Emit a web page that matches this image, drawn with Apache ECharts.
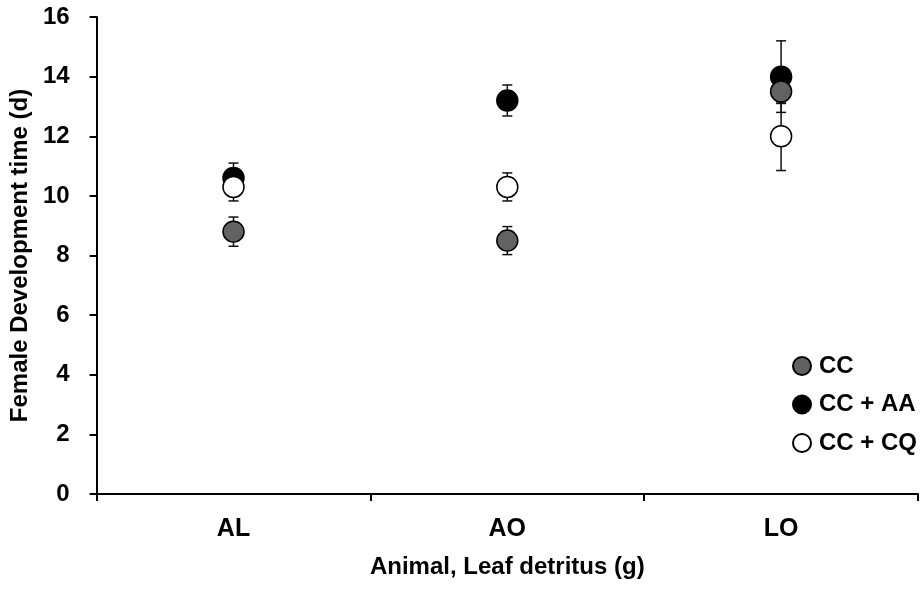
<!DOCTYPE html>
<html lang="en">

<head>
  <meta charset="UTF-8">
  <title>Female Development time</title>
  <style>
    * {
      margin: 0;
      padding: 0;
    }
    body {
      background-color: #ffffff;
    }
    #main {
      width: 924px;
      height: 593px;
    }
  </style>
</head>

<body>
  <div id="main"></div>
  <script src="https://cdn.jsdelivr.net/npm/echarts@6/dist/echarts.min.js"></script>
  <script>
    // data
    var categories = ['AL', 'AO', 'LO'];
    var ccMean = [8.8, 8.5, 13.5];
    var ccErr = [0.49, 0.47, 0.4];
    var aaMean = [10.6, 13.2, 14.0];
    var aaErr = [0.5, 0.52, 1.2];
    var cqMean = [10.3, 10.3, 12.0];
    var cqErr = [0.47, 0.47, 1.15];
    var yTicks = [0, 2, 4, 6, 8, 10, 12, 14, 16];

    var font = 'Liberation Sans';

    // [category index, low, high]
    function errData(mean, err) {
      return mean.map(function (m, i) {
        return [i, m - err[i], m + err[i]];
      });
    }

    function renderErr(params, api) {
      var x = api.value(0);
      var lo = api.coord([x, api.value(1)]);
      var hi = api.coord([x, api.value(2)]);
      var cap = 5;
      var st = { stroke: '#111', lineWidth: 1.5 };
      return {
        type: 'group',
        children: [
          { type: 'line', shape: { x1: lo[0], y1: lo[1], x2: hi[0], y2: hi[1] }, style: st },
          { type: 'line', shape: { x1: lo[0] - cap, y1: lo[1], x2: lo[0] + cap, y2: lo[1] }, style: st },
          { type: 'line', shape: { x1: hi[0] - cap, y1: hi[1], x2: hi[0] + cap, y2: hi[1] }, style: st }
        ]
      };
    }

    var allErr = errData(aaMean, aaErr).concat(errData(ccMean, ccErr), errData(cqMean, cqErr));

    var myChart = echarts.init(document.getElementById('main'));
    var option = {
      animation: false,
      backgroundColor: '#fff',
      grid: {
        left: 96,
        right: 6,
        top: 17,
        bottom: 99
      },
      legend: {
        data: ['CC', 'CC + AA', 'CC + CQ'],
        orient: 'vertical',
        left: 787,
        top: 349,
        icon: 'circle',
        itemWidth: 18,
        itemHeight: 18,
        itemGap: 14.5,
        textStyle: { fontFamily: font, fontWeight: 'bold', fontSize: 24, color: '#000', padding: [0, 0, 0, 3] }
      },
      xAxis: {
        type: 'category',
        data: categories,
        boundaryGap: true,
        name: 'Animal, Leaf detritus (g)',
        nameLocation: 'middle',
        nameGap: 61,
        nameTextStyle: { fontFamily: font, fontWeight: 'bold', fontSize: 24, color: '#000' },
        axisLine: { lineStyle: { color: '#000', width: 2 } },
        axisTick: { show: true, length: 7, lineStyle: { color: '#000', width: 2 } },
        axisLabel: { margin: 23, fontFamily: font, fontWeight: 'bold', fontSize: 25, color: '#000' },
        splitLine: { show: false }
      },
      yAxis: {
        type: 'value',
        min: yTicks[0],
        max: yTicks[yTicks.length - 1],
        interval: 2,
        name: 'Female Development time (d)',
        nameLocation: 'middle',
        nameGap: 57,
        nameTextStyle: { fontFamily: font, fontWeight: 'bold', fontSize: 24, color: '#000' },
        axisLine: { show: true, lineStyle: { color: '#000', width: 2 } },
        axisTick: { show: true, length: 7, lineStyle: { color: '#000', width: 2 } },
        axisLabel: { margin: 27, fontFamily: font, fontWeight: 'bold', fontSize: 24, color: '#000' },
        splitLine: { show: false }
      },
      series: [
        {
          type: 'custom',
          renderItem: renderErr,
          data: allErr,
          z: 1,
          silent: true
        },
        {
          name: 'CC + AA',
          type: 'scatter',
          data: aaMean,
          symbolSize: 21,
          z: 2,
          itemStyle: { color: '#000', borderColor: '#000', borderWidth: 1.5, opacity: 1 }
        },
        {
          name: 'CC',
          type: 'scatter',
          data: ccMean,
          symbolSize: 21,
          z: 3,
          itemStyle: { color: '#626262', borderColor: '#000', borderWidth: 1.5, opacity: 1 }
        },
        {
          name: 'CC + CQ',
          type: 'scatter',
          data: cqMean,
          symbolSize: 21,
          z: 4,
          itemStyle: { color: '#fff', borderColor: '#000', borderWidth: 1.5, opacity: 1 }
        }
      ]
    };
    myChart.setOption(option);
  </script>
</body>

</html>
